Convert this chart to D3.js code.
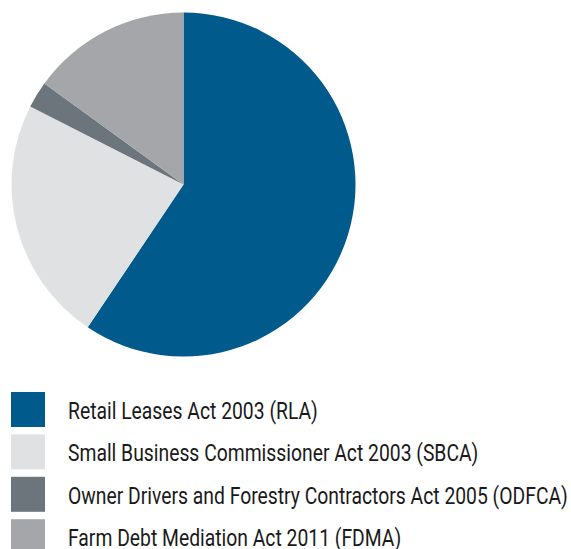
<!DOCTYPE html>
<html>
<head>
<meta charset="utf-8">
<script src="https://cdn.jsdelivr.net/npm/d3@7/dist/d3.min.js"></script>
<style>
  html, body { margin: 0; padding: 0; background: #fff; }
  svg { display: block; }
  .legend text { font-family: "Roboto", "Liberation Sans", sans-serif; font-size: 24px; fill: #1a1a1a; }
</style>
</head>
<body>
<svg id="chart" width="571" height="549"></svg>
<script>
// Share of matters by Act (percent)
const categories = [
  "Retail Leases Act 2003 (RLA)",
  "Small Business Commissioner Act 2003 (SBCA)",
  "Owner Drivers and Forestry Contractors Act 2005 (ODFCA)",
  "Farm Debt Mediation Act 2011 (FDMA)"
];
const values = [59.4, 23.1, 2.5, 15.0];
const colors = ["#005a8c", "#e0e1e3", "#6b757b", "#a5a6aa"];

const svg = d3.select("#chart");
const cx = 183.5, cy = 184.5, radius = 172;

const color = d3.scaleOrdinal().domain(categories).range(colors);

const pie = d3.pie().sort(null).value(d => d.value);
const arc = d3.arc().innerRadius(0).outerRadius(radius);

const data = categories.map((c, i) => ({ name: c, value: values[i] }));

svg.append("g")
  .attr("transform", `translate(${cx},${cy})`)
  .selectAll("path")
  .data(pie(data))
  .join("path")
  .attr("d", arc)
  .attr("fill", d => color(d.data.name));

// Legend: swatches on a band scale, labels in a condensed face
const legendY = d3.scaleBand().domain(categories).range([392, 554.2]).paddingInner(0.175).paddingOuter(0);
const legend = svg.append("g").attr("class", "legend");
const items = legend.selectAll("g").data(categories).join("g")
  .attr("transform", d => `translate(11,${legendY(d)})`);
items.append("rect")
  .attr("width", 34)
  .attr("height", legendY.bandwidth())
  .attr("fill", d => color(d));
const labels = items.append("text")
  .attr("y", legendY.bandwidth() / 2 + 9.5)
  .text(d => d);

// Condense the labels horizontally so the longest one spans 500px
const longest = d3.max(labels.nodes(), n => n.getComputedTextLength());
const sx = 500 / longest;
labels.attr("transform", `translate(57,0) scale(${sx},1)`);
</script>
</body>
</html>
